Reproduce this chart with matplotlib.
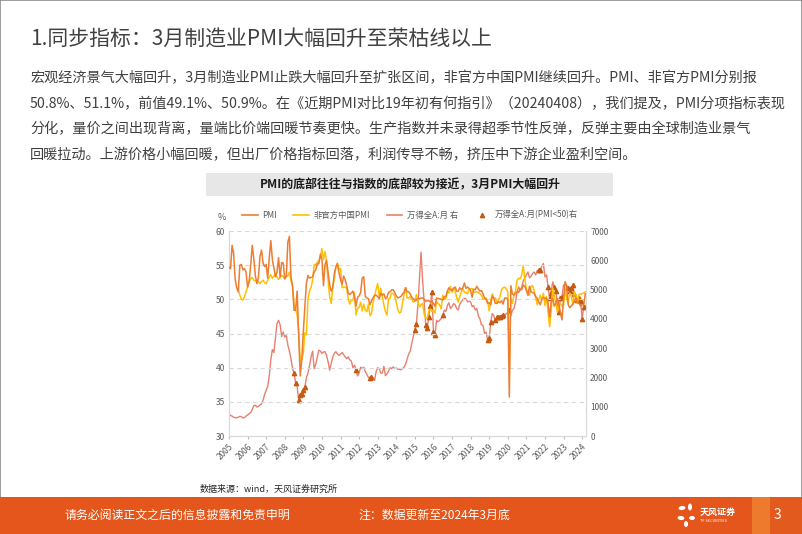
import numpy as np
import matplotlib.pyplot as plt
from matplotlib.patches import Rectangle, Ellipse
from matplotlib.lines import Line2D

plt.rcParams['font.family'] = ['Noto Sans CJK SC', 'DejaVu Sans']

years = list(range(2005, 2025))

# 制造业PMI（官方），2005-01 ~ 2024-03
pmi = [
    54.7, 54.5, 57.9, 56.7, 52.9, 51.7, 51.1, 55.0, 55.1, 54.3, 54.5, 54.0,
    51.8, 52.6, 55.0, 57.9, 56.0, 53.5, 52.3, 53.2, 56.3, 57.2, 55.3, 54.8,
    55.1, 53.1, 56.1, 58.6, 55.8, 54.6, 53.3, 54.0, 56.1, 53.2, 55.4, 55.3,
    53.0, 53.4, 58.4, 59.2, 53.3, 52.0, 48.4, 48.4, 51.2, 44.6, 38.8, 41.2,
    45.3, 49.0, 52.4, 53.5, 53.1, 53.2, 53.3, 54.0, 54.3, 55.2, 55.2, 56.6,
    55.8, 52.0, 55.1, 55.7, 53.9, 52.1, 51.2, 51.7, 53.8, 54.7, 55.2, 53.9,
    52.9, 52.2, 53.4, 52.9, 52.0, 50.9, 50.7, 50.9, 51.2, 50.4, 49.0, 50.3,
    50.5, 51.0, 53.1, 53.3, 50.4, 50.2, 50.1, 49.2, 49.8, 50.2, 50.6, 50.6,
    50.4, 50.1, 50.9, 50.6, 50.8, 50.1, 50.3, 51.0, 51.1, 51.4, 51.4, 51.0,
    50.5, 50.2, 50.3, 50.4, 50.8, 51.0, 51.7, 51.1, 51.1, 50.8, 50.3, 50.1,
    49.8, 49.9, 50.1, 50.1, 50.2, 50.2, 50.0, 49.7, 49.8, 49.8, 49.6, 49.7,
    49.4, 49.0, 50.2, 50.1, 50.1, 50.0, 49.9, 50.4, 50.4, 51.2, 51.7, 51.4,
    51.3, 51.6, 51.8, 51.2, 51.2, 51.7, 51.4, 51.7, 52.4, 51.6, 51.8, 51.6,
    51.3, 50.3, 51.5, 51.4, 51.9, 51.5, 51.2, 51.3, 50.8, 50.2, 50.0, 49.4,
    49.5, 49.2, 50.5, 50.1, 49.4, 49.4, 49.7, 49.5, 49.8, 49.3, 50.2, 50.2,
    50.0, 35.7, 52.0, 50.8, 50.6, 50.9, 51.1, 51.0, 51.5, 51.4, 52.1, 51.9,
    51.3, 50.6, 51.9, 51.1, 51.0, 50.9, 50.4, 50.1, 49.6, 49.2, 50.1, 50.3,
    50.1, 50.2, 49.5, 47.4, 49.6, 50.2, 49.0, 49.4, 50.1, 49.2, 48.0, 47.0,
    50.1, 52.6, 51.9, 49.2, 48.8, 49.0, 49.3, 49.7, 50.2, 49.5, 49.4, 49.0,
    49.2, 49.1, 50.8,
]

# 非官方中国PMI，2005-07 起
pmi_unofficial = [np.nan] * 6 + [
    51.4, 50.6, 50.0, 49.9, 50.4, 51.1,
    51.8, 52.6, 53.0, 53.2, 52.8, 52.7, 52.5, 52.6, 52.3, 52.6, 52.8, 52.4,
    52.3, 52.8, 53.3, 53.6, 53.1, 53.4, 53.8, 53.3, 52.9, 53.2, 53.5, 53.3,
    53.0, 53.4, 53.4, 54.0, 52.7, 52.0, 49.4, 48.5, 47.7, 45.2, 40.9, 41.2,
    42.2, 45.1, 44.8, 50.1, 51.2, 51.8, 52.8, 55.1, 55.0, 55.4, 55.7, 56.1,
    57.4, 55.8, 57.0, 55.4, 52.7, 50.4, 49.4, 51.9, 52.9, 54.8, 55.3, 54.4,
    54.5, 51.7, 51.8, 51.8, 51.6, 50.1, 49.3, 49.9, 49.9, 51.0, 47.7, 48.7,
    48.8, 49.6, 48.3, 49.3, 48.4, 48.2, 49.3, 47.6, 47.9, 49.5, 50.5, 51.5,
    52.3, 50.4, 51.6, 50.4, 49.2, 48.2, 47.7, 50.1, 50.2, 50.9, 50.8, 50.5,
    49.5, 48.5, 48.0, 48.1, 49.4, 50.7, 51.7, 50.2, 50.2, 50.4, 50.0, 49.6,
    49.7, 50.7, 49.6, 48.9, 49.2, 49.4, 47.8, 47.3, 47.2, 48.3, 48.6, 48.2,
    48.4, 48.0, 49.7, 49.4, 49.2, 48.6, 50.6, 50.0, 50.1, 51.2, 50.9, 51.9,
    51.0, 51.7, 51.2, 50.3, 49.6, 50.4, 51.1, 51.6, 51.0, 51.0, 50.8, 51.5,
    51.5, 51.6, 51.0, 51.1, 51.1, 51.0, 50.8, 50.6, 50.0, 50.1, 50.2, 49.7,
    48.3, 49.9, 50.8, 50.2, 50.2, 49.4, 49.9, 50.4, 51.4, 51.7, 51.8, 51.5,
    51.1, 40.3, 50.1, 49.4, 50.7, 51.2, 52.8, 53.1, 53.0, 53.6, 54.9, 53.0,
    51.5, 50.9, 50.6, 51.9, 52.0, 51.3, 50.3, 49.2, 50.0, 50.6, 49.9, 50.9,
    49.1, 50.4, 48.1, 46.0, 48.1, 51.7, 50.4, 49.5, 48.1, 49.2, 49.4, 49.0,
    49.2, 51.6, 50.0, 49.5, 50.9, 50.5, 49.2, 51.0, 50.6, 49.5, 50.7, 50.8,
    50.8, 50.9, 51.1,
]

# 万得全A 月度收盘
wind_a = [
    765, 700, 680, 640, 620, 625, 640, 670, 660, 620, 625, 680,
    720, 760, 800, 900, 1040, 1050, 990, 1010, 1060, 1100, 1220, 1420,
    1560, 1700, 2050, 2600, 2950, 2850, 3350, 3850, 3950, 3800, 3400, 3550,
    3380, 3440, 3100, 2900, 2650, 2300, 2150, 1810, 1700, 1230, 1400, 1450,
    1570, 1670, 2000, 2150, 2400, 2700, 2900, 2300, 2450, 2700, 2930, 2900,
    2820, 2870, 2880, 2750, 2530, 2250, 2480, 2700, 2820, 2880, 2800, 2750,
    2800, 2850, 2780, 2700, 2640, 2700, 2600, 2560, 2330, 2420, 2250, 2050,
    2150, 2350, 2300, 2350, 2200, 2100, 2000, 1980, 2020, 1990, 1900, 2200,
    2330, 2300, 2150, 2150, 2380, 2060, 2120, 2220, 2330, 2300, 2360, 2300,
    2320, 2280, 2280, 2260, 2300, 2350, 2450, 2620, 2800, 2900, 3150, 3400,
    3610, 3840, 4500, 5400, 6280, 5300, 4600, 3800, 3700, 4070, 4450, 4920,
    3560, 3440, 3950, 3900, 3950, 4010, 4120, 4300, 4250, 4460, 4550, 4350,
    4420, 4520, 4480, 4350, 4300, 4500, 4580, 4650, 4700, 4690, 4580, 4600,
    4580, 4420, 4450, 4300, 4350, 4100, 4000, 3800, 3780, 3500, 3550, 3270,
    3330, 3900, 4180, 4100, 3950, 4050, 4060, 4080, 4100, 4120, 4080, 4180,
    4180, 4290, 4100, 4300, 4350, 4580, 4920, 5090, 4980, 5090, 5300, 5400,
    5500, 5600, 5400, 5450, 5550, 5600, 5500, 5650, 5660, 5680, 5800, 5890,
    5430, 5500, 5090, 4700, 4900, 5260, 5100, 4950, 4500, 4250, 4700, 4750,
    5150, 5200, 5150, 5050, 4950, 5050, 5150, 4850, 4800, 4650, 4700, 4600,
    4000, 4400, 4450,
]

c_pmi = '#ED7D31'
c_unoff = '#FFC000'
c_wind = '#E9806E'
c_mark = '#C55A11'
c_grey = '#595959'

fig = plt.figure(figsize=(8.02, 5.34), dpi=100)
W, H = 802, 534

def fx(px):
    return px / W

def fy(py):
    return 1 - py / H

# 边框
fig.patches.append(Rectangle((0, 0), 1, 1, transform=fig.transFigure, fill=False,
                             edgecolor='#8C8C8C', lw=1.2))

# 标题与正文
fig.text(fx(30), fy(40), '1.同步指标：3月制造业PMI大幅回升至荣枯线以上',
         fontsize=15, color='#404040', va='center')
lines = [
    '宏观经济景气大幅回升，3月制造业PMI止跌大幅回升至扩张区间，非官方中国PMI继续回升。PMI、非官方PMI分别报',
    '50.8%、51.1%，前值49.1%、50.9%。在《近期PMI对比19年初有何指引》（20240408），我们提及，PMI分项指标表现',
    '分化，量价之间出现背离，量端比价端回暖节奏更快。生产指数并未录得超季节性反弹，反弹主要由全球制造业景气',
    '回暖拉动。上游价格小幅回暖，但出厂价格指标回落，利润传导不畅，挤压中下游企业盈利空间。',
]
for i, ln in enumerate(lines):
    fig.text(fx(30), fy(78 + i * 25.7), ln, fontsize=10.2, color='#404040', va='center')

# 图表标题栏
fig.patches.append(Rectangle((fx(206), fy(196)), fx(613) - fx(206), fy(173) - fy(196),
                             transform=fig.transFigure, facecolor='#E7E7E7', edgecolor='none'))
fig.text(fx(410), fy(184.5), 'PMI的底部往往与指数的底部较为接近，3月PMI大幅回升',
         fontsize=8.6, color='#1A1A1A', fontweight='bold', ha='center', va='center')

# 主图
ax = fig.add_axes([fx(229), fy(436), fx(586) - fx(229), fy(231) - fy(436)])
ax2 = ax.twinx()

x = np.arange(len(pmi))
ax2.plot(x, wind_a, color=c_wind, lw=1.0, zorder=2)
mask = np.array(pmi) < 50
ax2.plot(x[mask], np.array(wind_a)[mask], linestyle='none', marker='^', markersize=3.1,
         color=c_mark, zorder=5)
ax.plot(x, pmi_unofficial, color=c_unoff, lw=1.1, zorder=3)
ax.plot(x, pmi, color=c_pmi, lw=1.1, zorder=4)
ax.set_zorder(ax2.get_zorder() + 1)
ax.patch.set_visible(False)

ax.set_xlim(0, len(pmi) - 0.5)
ax.set_ylim(30, 60)
ax.set_yticks(range(30, 61, 5))
ax2.set_ylim(0, 7000)
ax2.set_yticks(range(0, 7001, 1000))
ax.yaxis.grid(True, linestyle=(0, (4, 3)), color='#D9D9D9', lw=0.8)
ax.set_axisbelow(True)

ax.set_xticks([12 * i for i in range(len(years))])
ax.set_xticklabels([str(y) for y in years], rotation=45, ha='right', va='top',
                   rotation_mode='anchor')
for a in (ax, ax2):
    a.tick_params(axis='both', labelsize=6, colors=c_grey, length=0, pad=3)
    for s in a.spines.values():
        s.set_color('#D9D9D9')
        s.set_linewidth(0.8)
    a.spines['top'].set_visible(False)
ax.tick_params(axis='x', length=2.5, color='#BFBFBF', pad=2)
fig.text(fx(222), fy(218), '%', fontsize=6.5, color=c_grey, ha='center', va='center')

handles = [
    Line2D([], [], color=c_pmi, lw=1.2),
    Line2D([], [], color=c_unoff, lw=1.2),
    Line2D([], [], color=c_wind, lw=1.2),
    Line2D([], [], color=c_mark, marker='^', linestyle='none', markersize=3.1),
]
labels = ['PMI', '非官方中国PMI', '万得全A:月 右', '万得全A:月(PMI<50)右']
leg = fig.legend(handles, labels, loc='center', bbox_to_anchor=(fx(410), fy(215)), ncol=4,
                 frameon=False, fontsize=6, handlelength=1.9, columnspacing=2.0,
                 handletextpad=0.5, labelcolor=c_grey)

fig.text(fx(200), fy(489), '数据来源：wind，天风证券研究所', fontsize=6.5, color='#262626', va='center')

# 页脚
fig.patches.append(Rectangle((0, 0), 1, fy(497), transform=fig.transFigure,
                             facecolor='#E4561B', edgecolor='none'))
fig.patches.append(Rectangle((fx(752), 0), fx(770) - fx(752), fy(497), transform=fig.transFigure,
                             facecolor='#EE7A2E', edgecolor='none'))
fig.patches.append(Rectangle((fx(770), 0), 1 - fx(770), fy(497), transform=fig.transFigure,
                             facecolor='#E25A1E', edgecolor='none'))
fig.text(fx(65), fy(515), '请务必阅读正文之后的信息披露和免责申明', fontsize=8.6, color='white', va='center')
fig.text(fx(358), fy(515), '注：数据更新至2024年3月底', fontsize=8.6, color='white', va='center')
fig.text(fx(777), fy(515), '3', fontsize=10, color='white', ha='center', va='center')
for (ex, ey, w, h, ang) in [(682, 508, 7, 4, 30), (690, 507, 4, 7, 0), (681, 518, 7, 4, -30),
                            (692, 518, 6, 4, 20), (686, 524, 4, 6, 0)]:
    fig.patches.append(Ellipse((fx(ex), fy(ey)), fx(w), fx(h) * W / H, angle=ang,
                               transform=fig.transFigure, facecolor='white', edgecolor='none'))
fig.text(fx(700), fy(512), '天风证券', fontsize=6.5, color='white', fontweight='bold', va='center')
fig.text(fx(700), fy(521), 'TF SECURITIES', fontsize=2.8, color='white', va='center')

fig.savefig('out.png', dpi=100)
